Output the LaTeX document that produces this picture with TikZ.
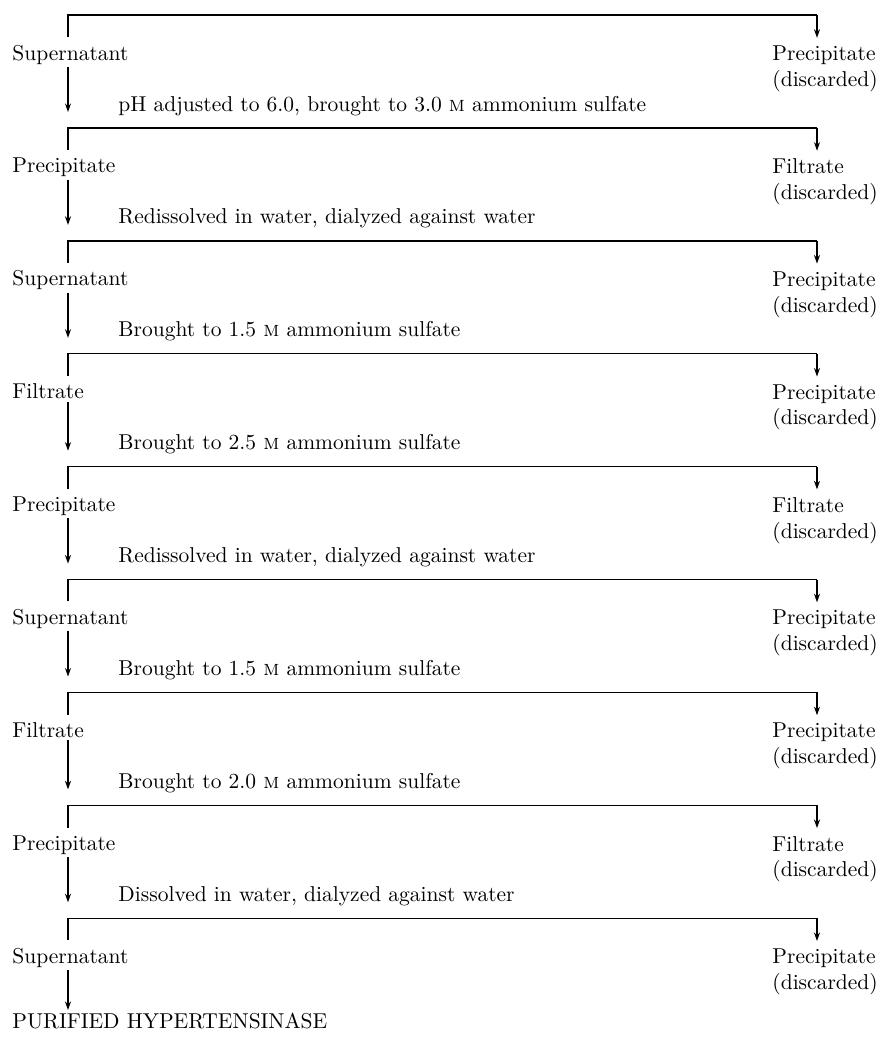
\documentclass[tikz,border=0pt]{standalone}
\usepackage{tikz}
\usetikzlibrary{arrows.meta}
\tikzset{
  flow/.style={line width=0.65pt},
  down/.style={flow, -{Stealth[length=4pt,width=2.8pt]}},
  fraction/.style={anchor=base west, inner xsep=0pt, inner ysep=1pt},
  waste/.style={anchor=north west, inner xsep=0pt, inner ysep=1pt, align=left},
  treat/.style={anchor=base west, inner sep=0pt},
}

\begin{document}
\begin{tikzpicture}[x=0.465pt, y=-0.465pt]
		%%%%% START %%%%%
		\useasboundingbox (0, 0) rectangle (878, 1042);
		
		\coordinate (b1l) at (68, 15);
		\coordinate (b1r) at (817, 15);
		\node[fraction] (s1) at (12, 60) {Supernatant};
		\node[waste] (d1) at (772, 43.2) {Precipitate\\(discarded)};
		\node[treat] (a1) at (118, 111) {pH adjusted to 6.0, brought to 3.0 \textsc{m} ammonium sulfate};
		\coordinate (t1) at (68, 112);
		\draw[flow, shorten <=2.5pt] (b1l |- s1.north) -- (b1l) -- (b1r);
		\draw[down, shorten >=2.5pt] (b1r) -- (b1r |- d1.north);
		\draw[down] (b1l |- s1.south) -- (t1);
		
		\coordinate (b2l) at (68, 127.9);
		\coordinate (b2r) at (817, 127.9);
		\node[fraction] (s2) at (12, 172.9) {Precipitate};
		\node[waste] (d2) at (772, 156.1) {Filtrate\\(discarded)};
		\node[treat] (a2) at (118, 223.9) {Redissolved in water, dialyzed against water};
		\coordinate (t2) at (68, 224.9);
		\draw[flow, shorten <=2.5pt] (b2l |- s2.north) -- (b2l) -- (b2r);
		\draw[down, shorten >=2.5pt] (b2r) -- (b2r |- d2.north);
		\draw[down] (b2l |- s2.south) -- (t2);
		
		\coordinate (b3l) at (68, 240.8);
		\coordinate (b3r) at (817, 240.8);
		\node[fraction] (s3) at (12, 285.8) {Supernatant};
		\node[waste] (d3) at (772, 269) {Precipitate\\(discarded)};
		\node[treat] (a3) at (118, 336.8) {Brought to 1.5 \textsc{m} ammonium sulfate};
		\coordinate (t3) at (68, 337.8);
		\draw[flow, shorten <=2.5pt] (b3l |- s3.north) -- (b3l) -- (b3r);
		\draw[down, shorten >=2.5pt] (b3r) -- (b3r |- d3.north);
		\draw[down] (b3l |- s3.south) -- (t3);
		
		\coordinate (b4l) at (68, 353.7);
		\coordinate (b4r) at (817, 353.7);
		\node[fraction] (s4) at (12, 398.7) {Filtrate};
		\node[waste] (d4) at (772, 381.9) {Precipitate\\(discarded)};
		\node[treat] (a4) at (118, 449.7) {Brought to 2.5 \textsc{m} ammonium sulfate};
		\coordinate (t4) at (68, 450.7);
		\draw[flow, shorten <=2.5pt] (b4l |- s4.north) -- (b4l) -- (b4r);
		\draw[down, shorten >=2.5pt] (b4r) -- (b4r |- d4.north);
		\draw[down] (b4l |- s4.south) -- (t4);
		
		\coordinate (b5l) at (68, 466.6);
		\coordinate (b5r) at (817, 466.6);
		\node[fraction] (s5) at (12, 511.6) {Precipitate};
		\node[waste] (d5) at (772, 494.8) {Filtrate\\(discarded)};
		\node[treat] (a5) at (118, 562.6) {Redissolved in water, dialyzed against water};
		\coordinate (t5) at (68, 563.6);
		\draw[flow, shorten <=2.5pt] (b5l |- s5.north) -- (b5l) -- (b5r);
		\draw[down, shorten >=2.5pt] (b5r) -- (b5r |- d5.north);
		\draw[down] (b5l |- s5.south) -- (t5);
		
		\coordinate (b6l) at (68, 579.5);
		\coordinate (b6r) at (817, 579.5);
		\node[fraction] (s6) at (12, 624.5) {Supernatant};
		\node[waste] (d6) at (772, 607.7) {Precipitate\\(discarded)};
		\node[treat] (a6) at (118, 675.5) {Brought to 1.5 \textsc{m} ammonium sulfate};
		\coordinate (t6) at (68, 676.5);
		\draw[flow, shorten <=2.5pt] (b6l |- s6.north) -- (b6l) -- (b6r);
		\draw[down, shorten >=2.5pt] (b6r) -- (b6r |- d6.north);
		\draw[down] (b6l |- s6.south) -- (t6);
		
		\coordinate (b7l) at (68, 692.4);
		\coordinate (b7r) at (817, 692.4);
		\node[fraction] (s7) at (12, 737.4) {Filtrate};
		\node[waste] (d7) at (772, 720.6) {Precipitate\\(discarded)};
		\node[treat] (a7) at (118, 788.4) {Brought to 2.0 \textsc{m} ammonium sulfate};
		\coordinate (t7) at (68, 789.4);
		\draw[flow, shorten <=2.5pt] (b7l |- s7.north) -- (b7l) -- (b7r);
		\draw[down, shorten >=2.5pt] (b7r) -- (b7r |- d7.north);
		\draw[down] (b7l |- s7.south) -- (t7);
		
		\coordinate (b8l) at (68, 805.3);
		\coordinate (b8r) at (817, 805.3);
		\node[fraction] (s8) at (12, 850.3) {Precipitate};
		\node[waste] (d8) at (772, 833.5) {Filtrate\\(discarded)};
		\node[treat] (a8) at (118, 901.3) {Dissolved in water, dialyzed against water};
		\coordinate (t8) at (68, 902.3);
		\draw[flow, shorten <=2.5pt] (b8l |- s8.north) -- (b8l) -- (b8r);
		\draw[down, shorten >=2.5pt] (b8r) -- (b8r |- d8.north);
		\draw[down] (b8l |- s8.south) -- (t8);
		
		\coordinate (b9l) at (68, 918.2);
		\coordinate (b9r) at (817, 918.2);
		\node[fraction] (s9) at (12, 963.2) {Supernatant};
		\node[waste] (d9) at (772, 946.4) {Precipitate\\(discarded)};
		\node[fraction] (end) at (12, 1028) {PURIFIED HYPERTENSINASE};
		\draw[flow, shorten <=2.5pt] (b9l |- s9.north) -- (b9l) -- (b9r);
		\draw[down, shorten >=2.5pt] (b9r) -- (b9r |- d9.north);
		\draw[down] (b9l |- s9.south) -- (b9l |- end.north);
		
		%%%%% END %%%%%
	\end{tikzpicture}
\end{document}
